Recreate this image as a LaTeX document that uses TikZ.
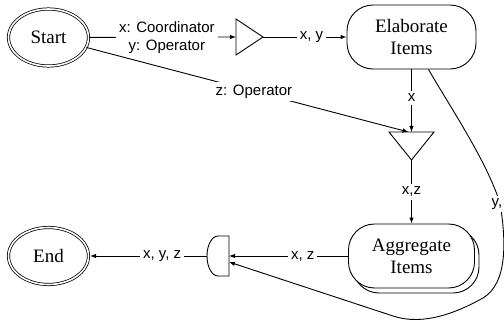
\documentclass[tikz,border=0pt]{standalone}
\usepackage{fontspec}
\setmainfont{Liberation Serif}
\setsansfont{Liberation Sans}
\usetikzlibrary{shapes.geometric,arrows.meta,shadows}

\tikzset{
  terminal/.style={ellipse, draw, double, double distance=1.6pt, line width=0.75pt,
    minimum width=80pt, minimum height=57pt, inner sep=0pt,
    font=\fontsize{19}{22}\selectfont},
  procbox/.style={draw, fill=white, rounded corners=26pt, minimum width=129pt,
    minimum height=64pt, align=center, font=\fontsize{19}{22}\selectfont},
  frame/.style={inner sep=0pt, outer sep=0pt},
  lbl/.style={fill=white, inner sep=3pt, align=center,
    font=\sffamily\fontsize{15}{18}\selectfont},
  flow/.style={-{Latex[length=6pt,width=4.5pt]}},
}

\begin{document}
\begin{tikzpicture}[x=1pt, y=-1pt, line width=0.9pt]
\useasboundingbox (0,0) rectangle (504,321);

% start / end states
\node[terminal] (start) at (48.5,37.5) {Start};
\node[terminal] (end) at (48.5,256) {End};

% activities
\node[procbox] (elab) at (411.5,37) {Elaborate\\Items};
\node[procbox, minimum width=126pt,
      copy shadow={shadow xshift=4.5pt, shadow yshift=-5pt, draw, fill=white}]
      (agg) at (411.5,256) {Aggregate\\Items};

% split triangle (pointing right) and merge triangle (pointing down)
\node[frame, minimum width=27pt, minimum height=36pt] (tri1) at (249.5,37) {};
\draw (tri1.north west) -- (tri1.east) -- (tri1.south west) -- cycle;
\node[frame, minimum width=45pt, minimum height=28pt] (tri2) at (411.5,146) {};
\draw (tri2.north west) -- (tri2.north east) -- (tri2.south) -- cycle;

% join gate (flat right side, rounded left side)
\node[frame, minimum width=22pt, minimum height=40pt] (gate) at (218,256) {};
\draw (gate.north east) -- (gate.north)
      arc[start angle=-90, end angle=-270, x radius=11, y radius=20]
      -- (gate.south east) -- cycle;

% flows
\draw[flow] (start) -- node[lbl, pos=0.53] {x: Coordinator\\y: Operator} (tri1.west);
\draw[flow] (tri1.east) -- node[lbl, pos=0.58] {x, y} (elab.west);
\draw[flow] (elab.south) -- node[lbl, pos=0.45] {x} (tri2.north);
\draw[flow] (start) -- node[lbl, pos=0.52] {z: Operator} ([xshift=-3pt]tri2.north);
\draw[flow] (tri2.south) -- node[lbl, pos=0.5] {x,z} (agg.north);
\draw[flow] (agg.west) -- node[lbl, pos=0.38] {x, z} (gate.east);
\draw[flow, shorten >=1.2pt] (gate.west) -- node[lbl, pos=0.38] {x, y, z} (end.east);

% long return flow from Elaborate Items to the join
\coordinate (ybend) at (500,203);
\draw[flow] ([xshift=17pt]elab.south) .. controls (452,110) and (486,160) .. (ybend)
      .. controls (506,240) and (508,283) .. (483,298)
      .. controls (456,313) and (423,326) .. (393,316)
      -- ([yshift=-6pt]gate.east);
\node[lbl, inner sep=2pt] (ylbl) at (497,204) {y,};
\end{tikzpicture}
\end{document}
